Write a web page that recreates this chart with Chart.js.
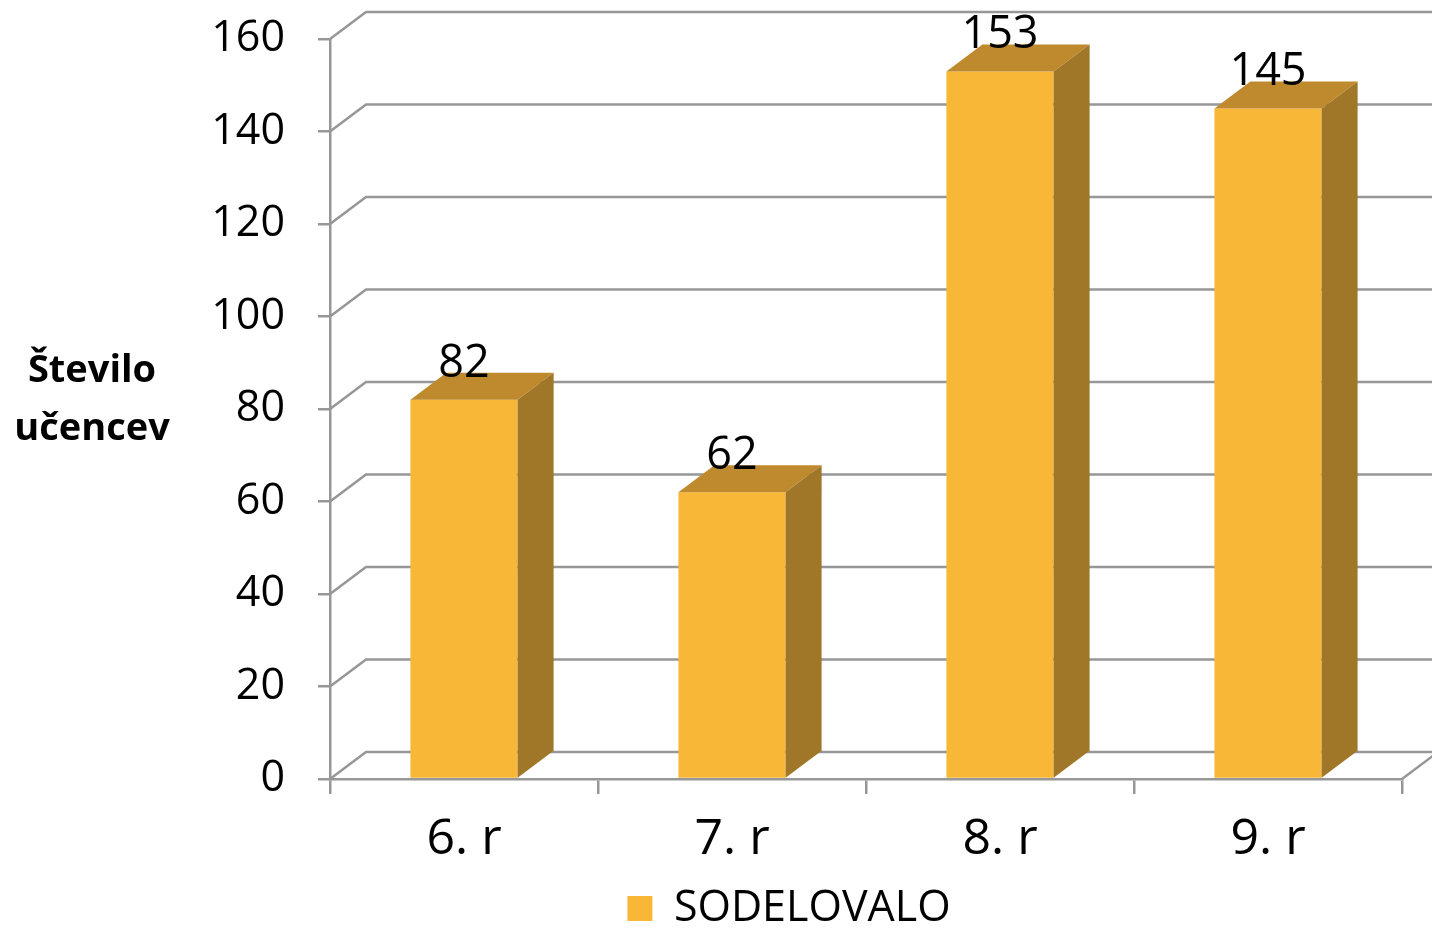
<!DOCTYPE html>
<html>
<head>
<meta charset="utf-8">
<script src="https://cdn.jsdelivr.net/npm/chart.js@4/dist/chart.umd.min.js"></script>
<style>
  html, body { margin: 0; padding: 0; background: #ffffff; }
  #wrap { width: 1432px; height: 929px; }
</style>
</head>
<body>
<div id="wrap"><canvas id="chart"></canvas></div>
<script>
const categories = ["6. r", "7. r", "8. r", "9. r"];
const sodelovalo = [82, 62, 153, 145];
const seriesLabel = "SODELOVALO";
const axisTitle = ["Število", "učencev"];
const yMin = 0;
const yMax = 160;
const yStep = 20;

const FRONT = "#F9B737";
const TOP = "#BF8A2E";
const SIDE = "#A07628";
const GRID = "#979797";
const FONT = "'Open Sans', 'Noto Sans', sans-serif";
const DX = 36;
const DY = 27;

function createDepthPlugin() {
  return {
    id: "depth-3d",
    afterLayout(chart) {
      // legend sits a little right of the page centre in the original
      const legend = chart.legend;
      if (!legend) return;
      legend.left += 88;
      legend.right += 88;
      legend.top += 11;
      legend.bottom += 11;
    },
    beforeDatasetsDraw(chart) {
      const { ctx, chartArea, scales } = chart;
      ctx.save();
      ctx.strokeStyle = GRID;
      ctx.lineWidth = 2.5;
      scales.y.ticks.forEach((tick) => {
        const py = scales.y.getPixelForValue(tick.value);
        ctx.beginPath();
        ctx.moveTo(chartArea.left, py);
        ctx.lineTo(chartArea.left + DX, py - DY);
        ctx.lineTo(chart.width, py - DY);
        ctx.stroke();
      });
      ctx.beginPath();
      ctx.moveTo(chartArea.right, chartArea.bottom);
      ctx.lineTo(chartArea.right + DX, chartArea.bottom - DY);
      ctx.stroke();
      ctx.restore();
    },
    afterDatasetsDraw(chart) {
      const { ctx } = chart;
      ctx.save();
      chart.data.datasets.forEach((dataset, datasetIndex) => {
        const meta = chart.getDatasetMeta(datasetIndex);
        meta.data.forEach((bar, index) => {
          const { x, y, base, width } = bar.getProps(["x", "y", "base", "width"], true);
          const left = x - width / 2;
          const right = x + width / 2;

          ctx.fillStyle = TOP;
          ctx.beginPath();
          ctx.moveTo(left, y);
          ctx.lineTo(left + DX, y - DY);
          ctx.lineTo(right + DX, y - DY);
          ctx.lineTo(right, y);
          ctx.closePath();
          ctx.fill();

          ctx.fillStyle = SIDE;
          ctx.beginPath();
          ctx.moveTo(right, y);
          ctx.lineTo(right + DX, y - DY);
          ctx.lineTo(right + DX, base - DY);
          ctx.lineTo(right, base);
          ctx.closePath();
          ctx.fill();

          ctx.fillStyle = "#000000";
          ctx.font = `45px ${FONT}`;
          ctx.textAlign = "center";
          ctx.textBaseline = "alphabetic";
          ctx.fillText(String(dataset.data[index]), x, y - DY + 4);
        });
      });

      // horizontal axis title on the left
      ctx.fillStyle = "#000000";
      ctx.font = `bold 38px ${FONT}`;
      ctx.textAlign = "center";
      ctx.textBaseline = "alphabetic";
      ctx.fillText(axisTitle[0], 92, 382);
      ctx.fillText(axisTitle[1], 92, 440);
      ctx.restore();
    },
  };
}

new Chart(document.getElementById("chart"), {
  type: "bar",
  data: {
    labels: categories,
    datasets: [
      {
        label: seriesLabel,
        data: sodelovalo,
        backgroundColor: FRONT,
        borderWidth: 0,
        categoryPercentage: 0.4,
        barPercentage: 1,
      },
    ],
  },
  options: {
    responsive: true,
    maintainAspectRatio: false,
    animation: false,
    layout: { padding: { top: 39, right: 30, left: 0, bottom: 0 } },
    plugins: {
      tooltip: { enabled: false },
      legend: {
        position: "bottom",
        labels: {
          boxWidth: 25,
          boxHeight: 25,
          padding: 4,
          color: "#000000",
          font: { family: FONT, size: 43, lineHeight: 0.8 },
        },
      },
    },
    scales: {
      x: {
        grid: { drawOnChartArea: false, drawTicks: true, tickLength: 15, color: GRID, lineWidth: 2.5 },
        border: { color: GRID, width: 2.5 },
        ticks: { color: "#000000", padding: 16, font: { family: FONT, size: 50 } },
        afterFit(scale) {
          const legendHeight = scale.chart.legend ? scale.chart.legend.height : 0;
          scale.height = scale.chart.height - 779 - legendHeight;
        },
      },
      y: {
        min: yMin,
        max: yMax,
        ticks: { stepSize: yStep, color: "#000000", padding: 33, font: { family: FONT, size: 43 } },
        grid: { drawOnChartArea: false, drawTicks: true, tickLength: 12, color: GRID, lineWidth: 2.5 },
        border: { color: GRID, width: 2.5 },
        afterFit(scale) {
          scale.width = 330;
          scale.paddingTop = 0;
          scale.paddingBottom = 0;
        },
      },
    },
  },
  plugins: [createDepthPlugin()],
});
</script>
</body>
</html>
